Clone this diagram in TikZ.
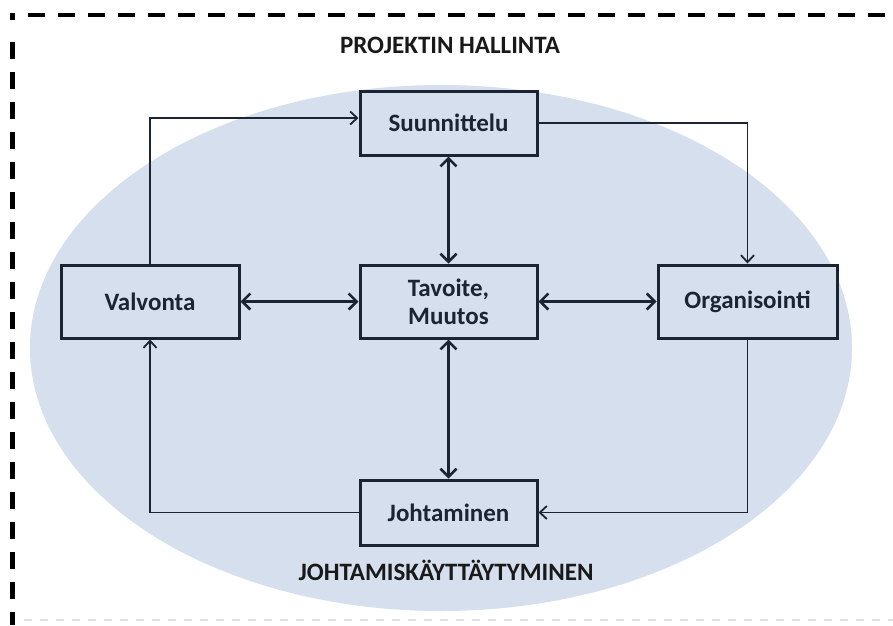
\documentclass[tikz,border=0pt]{standalone}
\usepackage{fontspec}
\setmainfont{Carlito}
\usetikzlibrary{arrows.meta}
\definecolor{ellfill}{HTML}{D5DFEE}
\definecolor{ink}{HTML}{1B2433}
\tikzset{
  box/.style={draw=ink, line width=3pt, fill=ellfill, minimum width=177pt, minimum height=66pt, inner sep=0pt, font=\bfseries\fontsize{25}{28}\selectfont, text=ink, align=center},
  thin/.style={draw=ink, line width=1.5pt, -{Straight Barb[length=7pt,width=13pt,line width=1.8pt]}},
  thick/.style={draw=ink, line width=2.6pt, {Straight Barb[length=8pt,width=16pt,line width=2.6pt]}-{Straight Barb[length=8pt,width=16pt,line width=2.6pt]}},
  lbl/.style={font=\bfseries\fontsize{25}{27}\selectfont, text=black!90, inner sep=0pt, anchor=base},
  frame/.style={black, line width=4.5pt, dash pattern=on 17pt off 13pt}
}
\begin{document}
\begin{tikzpicture}[x=1pt,y=-1pt]
\useasboundingbox (0,0) rectangle (893,625);
\fill[white] (0,0) rectangle (893,625);
% dashed frame
\draw[black, line width=4.5pt] (12.5,13) -- (12.5,20);
\draw[frame] (12.5,42) -- (12.5,625);
\draw[frame] (28,15) -- (893,15);
\draw[black!12, line width=2pt, dash pattern=on 8pt off 8pt] (24,620) -- (893,620);
% ellipse
\fill[ellfill] (441,348) ellipse [x radius=411, y radius=263];
% labels
\node[lbl] (t1) at (450,53) {PROJEKTIN HALLINTA};
\node[lbl] (t2) at (446,580) {JOHTAMISKÄYTTÄYTYMINEN};
% boxes
\node[box, minimum height=64pt] (s) at (448.5,123) {Suunnittelu};
\node[box, minimum height=73pt] (t) at (448.5,301.5) {Tavoite,\\Muutos};
\node[box, minimum width=178pt, minimum height=73pt] (v) at (150,301.5) {Valvonta};
\node[box, minimum width=179pt, minimum height=73pt] (o) at (747.5,301.5) {Organisointi};
\node[box, minimum height=65pt] (j) at (448.5,512.5) {Johtaminen};
% thin cycle arrows
\draw[thin] (v.north) |- ([yshift=5pt]s.west);
\draw[thin] (s.east) -| (o.north);
\draw[thin] (o.south) |- (j.east);
\draw[thin] (j.west) -| (v.south);
% thick double arrows
\draw[thick] (s.south) -- (t.north);
\draw[thick] (t.south) -- (j.north);
\draw[thick] (v.east) -- (t.west);
\draw[thick] (t.east) -- (o.west);
\end{tikzpicture}
\end{document}
